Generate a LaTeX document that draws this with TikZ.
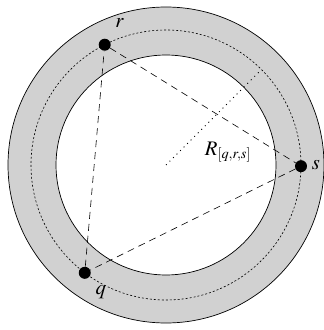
\documentclass[tikz,border=0pt]{standalone}
\usepackage{amsmath,amssymb}
\usepackage{mathptmx}
\usepackage{tikz}
\usetikzlibrary{calc,positioning}

\begin{document}
\begin{tikzpicture}[x=1bp, y=1bp,
    ring/.style={draw, line width=0.7bp},
    dot/.style={circle, fill=black, inner sep=0pt, minimum size=12bp},
    chord/.style={dash pattern=on 7bp off 5bp, line width=0.6bp},
    lbl/.style={font=\huge, inner sep=0pt}
]
\useasboundingbox (0,0) rectangle (324,330);
\coordinate (o) at (166,165);

% annulus
\fill[black!18, even odd rule] (o) circle (158) (o) circle (110);
\draw[ring] (o) circle (158);
\draw[ring] (o) circle (110);
\draw[dash pattern=on 2bp off 2bp, line width=0.6bp] (o) circle (135);

\node[dot] (r) at ($(o)+(117:135)$) {};
\node[dot] (s) at ($(o)+(-0.5:135)$) {};
\node[dot] (q) at ($(o)+(233:135)$) {};

\draw[chord] (r) -- (s);
\draw[chord] (s) -- (q);
\draw[chord] (q) -- (r);

\coordinate (m) at ($(o)+(45:135)$);
\draw[dash pattern=on 1bp off 4bp, line width=0.8bp] (o) -- (m);

\node[lbl] (rlab) at ($(r)+(15,22)$) {$r$};
\node[lbl] (slab) at ($(s)+(15,1)$) {$s$};
\node[lbl] (qlab) at ($(q)+(16,-19)$) {$q$};
\node[lbl] (Rlab) at ($(o)+(62,13)$) {$R_{[q,r,s]}$};
\end{tikzpicture}
\end{document}
